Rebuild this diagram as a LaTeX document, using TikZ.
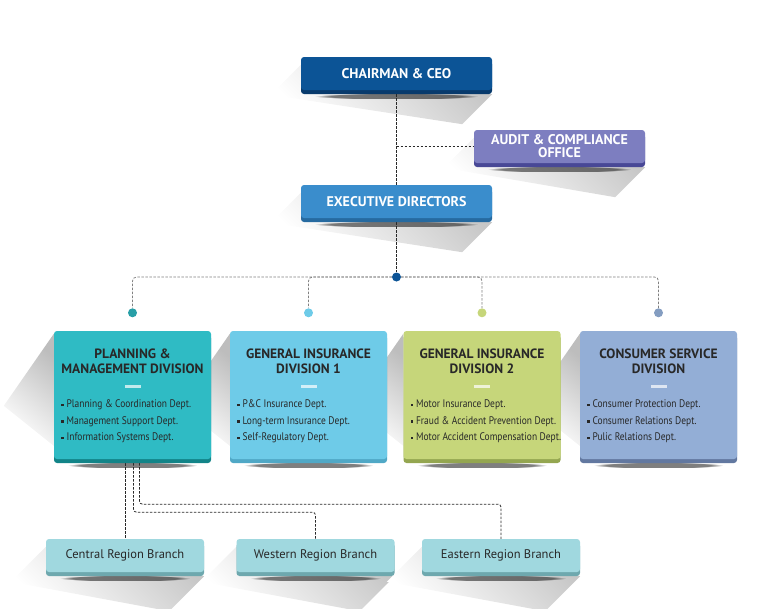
\documentclass[tikz,border=0pt]{standalone}
\usepackage{fontspec}
\setmainfont{PT Sans}
\newfontfamily\itemfont[FakeStretch=0.86]{PT Sans}
\usetikzlibrary{positioning, calc, shadows, backgrounds, fadings}

\definecolor{ceoblue}{RGB}{12,84,150}
\definecolor{ceodark}{RGB}{8,58,108}
\definecolor{auditpurple}{RGB}{125,126,192}
\definecolor{auditdark}{RGB}{72,72,150}
\definecolor{execblue}{RGB}{58,141,204}
\definecolor{execdark}{RGB}{38,106,160}
\definecolor{pmteal}{RGB}{47,187,196}
\definecolor{pmdark}{RGB}{18,132,136}
\definecolor{gisky}{RGB}{110,203,232}
\definecolor{giskydark}{RGB}{80,168,198}
\definecolor{gilime}{RGB}{198,214,122}
\definecolor{gilimedark}{RGB}{148,166,80}
\definecolor{csblue}{RGB}{147,174,214}
\definecolor{csdark}{RGB}{98,120,160}
\definecolor{branchcyan}{RGB}{160,216,223}
\definecolor{branchdark}{RGB}{110,168,174}
\definecolor{inkgray}{RGB}{40,40,40}

\tikzset{
  x=1pt, y=-1pt,
  topbox/.style={rounded corners=3pt, minimum height=33pt, inner sep=2pt, align=center,
    text=white, font=\bfseries\fontsize{14}{13}\selectfont},
  divbox/.style={rounded corners=3pt, minimum width=157pt, minimum height=128pt, inner sep=0pt},
  branchbox/.style={rounded corners=3pt, minimum width=158pt, minimum height=33pt, inner sep=0pt,
    fill=branchcyan, general shadow={fill=branchdark, shadow yshift=-4pt},
    text=inkgray, font=\fontsize{12.5}{13}\selectfont},
  strip/.style={general shadow={fill=#1, shadow yshift=-4pt}},
  divtitle/.style={anchor=north, inner sep=0pt, align=center, text=inkgray,
    font=\bfseries\fontsize{13.5}{15}\selectfont},
  bar/.style={fill=white, fill opacity=.7, minimum width=16pt, minimum height=3pt, inner sep=0pt},
  items/.style={anchor=north west, inner sep=0pt, align=left, text=inkgray,
    font=\itemfont\fontsize{11}{16.5}\selectfont},
  dot/.style={circle, minimum size=9pt, inner sep=0pt},
  link/.style={draw=inkgray, dash pattern=on 2.5pt off 1.5pt, line width=.8pt},
  spread/.style={draw=gray, dash pattern=on 2.5pt off 1.5pt, line width=.8pt, rounded corners=4pt},
}
\newcommand{\sqb}{\raisebox{.3ex}{\rule{2.6pt}{2.6pt}}\hspace{3pt}}
% long shadow falling to the lower left
\newcommand{\longshade}[2][40]{%
  \path[top color=black!22, bottom color=white, shading angle=-45]
    ([yshift=-8pt]#2.north west) -- ++(-#1,#1) -- ($([yshift=-4pt]#2.south east)+(-#1,#1)$)
    -- ([yshift=-4pt]#2.south east) -- cycle;
  \fill[black, opacity=.5, path fading=circle with fuzzy edge 20 percent]
    ($(#2.south west)+(14,3)$) rectangle ($(#2.south east)+(-14,9)$);}
% only the wedge on the left side
\newcommand{\sidewedge}[1]{%
  \path[top color=black!26, bottom color=white, shading angle=-40]
    ([yshift=-3pt]#1.north west) -- ++(-50,72) -- ++(50,40) -- cycle;
  \fill[black, opacity=.5, path fading=circle with fuzzy edge 20 percent]
    ($(#1.south west)+(14,3)$) rectangle ($(#1.south east)+(-14,9)$);}

\begin{document}
\begin{tikzpicture}
\useasboundingbox (0,0) rectangle (784,608);

% top of the chart
\node[topbox, minimum width=191pt, fill=ceoblue, strip=ceodark] (ceo) at (396.5,73.5) {CHAIRMAN \& CEO};
\node[topbox, minimum width=171pt, fill=auditpurple, strip=auditdark] (audit) at (559.5,146.5) {AUDIT \& COMPLIANCE\\OFFICE};
\node[topbox, minimum width=191pt, fill=execblue, strip=execdark] (exec) at (396.5,201.5) {EXECUTIVE DIRECTORS};

% divisions
\node[divbox, fill=pmteal, strip=pmdark] (pm) at (132.5,395) {};
\node[divbox, fill=gisky, strip=giskydark] (gi1) at (308.5,395) {};
\node[divbox, fill=gilime, strip=gilimedark] (gi2) at (482,395) {};
\node[divbox, fill=csblue, strip=csdark] (cs) at (658.5,395) {};

\node[divtitle] (pmtitle) at ([yshift=-18pt]pm.north) {PLANNING \&\\MANAGEMENT DIVISION};
\node[divtitle] (gi1title) at ([yshift=-18pt]gi1.north) {GENERAL INSURANCE\\DIVISION 1};
\node[divtitle] (gi2title) at ([yshift=-18pt]gi2.north) {GENERAL INSURANCE\\DIVISION 2};
\node[divtitle] (cstitle) at ([yshift=-18pt]cs.north) {CONSUMER SERVICE\\DIVISION};

\node[bar] (pmbar) at ([yshift=-56pt]pm.north) {};
\node[bar] (gi1bar) at ([yshift=-56pt]gi1.north) {};
\node[bar] (gi2bar) at ([yshift=-56pt]gi2.north) {};
\node[bar] (csbar) at ([yshift=-56pt]cs.north) {};

\node[items] (pmlist) at ([xshift=7pt, yshift=-69pt]pm.north west)
  {\sqb Planning \& Coordination Dept.\\\sqb Management Support Dept.\\\sqb Information Systems Dept.};
\node[items] (gi1list) at ([xshift=7pt, yshift=-69pt]gi1.north west)
  {\sqb P\&C Insurance Dept.\\\sqb Long-term Insurance Dept.\\\sqb Self-Regulatory Dept.};
\node[items] (gi2list) at ([xshift=7pt, yshift=-69pt]gi2.north west)
  {\sqb Motor Insurance Dept.\\\sqb Fraud \& Accident Prevention Dept.\\\sqb Motor Accident Compensation Dept.};
\node[items] (cslist) at ([xshift=7pt, yshift=-69pt]cs.north west)
  {\sqb Consumer Protection Dept.\\\sqb Consumer Relations Dept.\\\sqb Pulic Relations Dept.};

% branches
\node[branchbox] (central) at (125,555.5) {Central Region Branch};
\node[branchbox] (western) at (315.5,555.5) {Western Region Branch};
\node[branchbox] (eastern) at (501,555.5) {Eastern Region Branch};

% junction dots
\node[dot, fill=ceoblue] (hub) at (396.5,277) {};
\node[dot, fill=pmteal!85!black] (t1) at ([yshift=18pt]pm.north) {};
\node[dot, fill=gisky] (t2) at ([yshift=18pt]gi1.north) {};
\node[dot, fill=gilime] (t3) at ([yshift=18pt]gi2.north) {};
\node[dot, fill=csblue!90!black] (t4) at ([yshift=18pt]cs.north) {};

\begin{pgfonlayer}{background}
  \longshade[30]{ceo}
  \longshade[30]{audit}
  \longshade[30]{exec}
  \sidewedge{pm}
  \sidewedge{gi1}
  \sidewedge{gi2}
  \sidewedge{cs}
  \longshade[35]{central}
  \longshade[35]{western}
  \longshade[35]{eastern}

  \draw[link] (ceo) -- (exec);
  \draw[link] (ceo.south |- audit.west) -- (audit.west);
  \draw[link] (exec) -- (hub);
  \draw[spread] (hub) -| (t1);
  \draw[spread] (hub) -| (t2);
  \draw[spread] (hub) -| (t3);
  \draw[spread] (hub) -| (t4);

  \draw[link] (central.north |- pm.south) -- (central.north);
  \draw[link, rounded corners=3pt] ([xshift=1pt]pm.south) -- ++(0,53) -| (western.north);
  \draw[link, rounded corners=3pt] ([xshift=7pt]pm.south) -- ++(0,45) -| (eastern.north);
\end{pgfonlayer}
\end{tikzpicture}
\end{document}
